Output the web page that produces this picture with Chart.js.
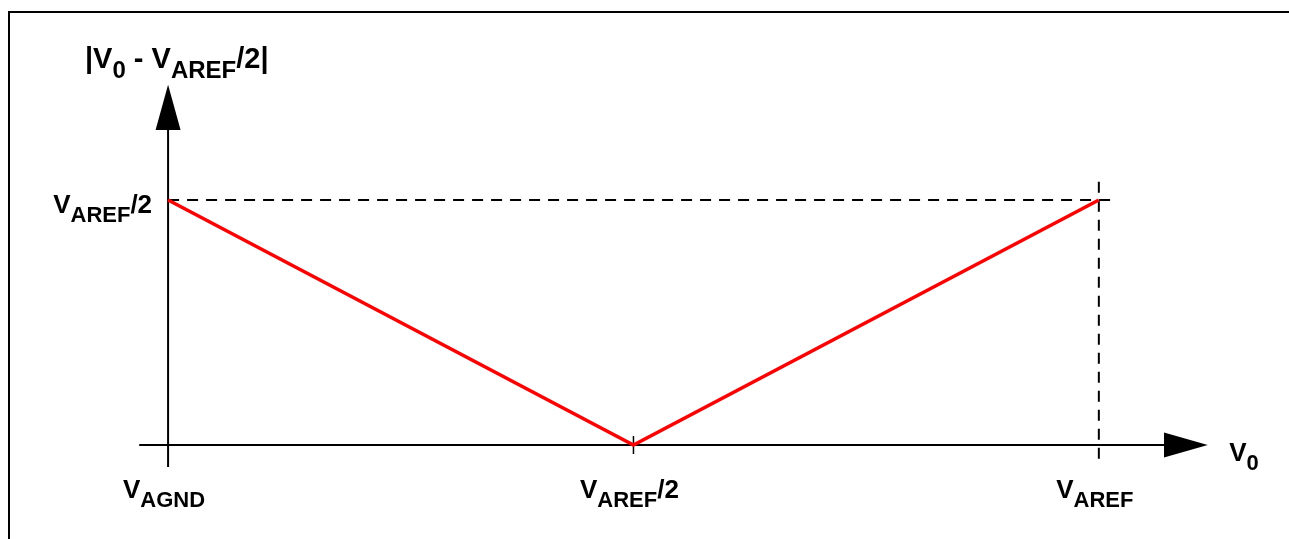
<!DOCTYPE html>
<html>
<head>
<meta charset="utf-8">
<script src="https://cdn.jsdelivr.net/npm/chart.js@4"></script>
<style>
  html,body{margin:0;padding:0;background:#fff}
  canvas{display:block}
</style>
</head>
<body>
<canvas id="c" width="1289" height="539"></canvas>
<script>
// transfer curve |V0 - VAREF/2| against V0 (VAGND = 0, VAREF = 1)
const xValues = [0, 0.5, 1]
const yValues = [0.5, 0, 0.5]

// labels: each is a list of [text, isSubscript]
const xTickValues = [0, 0.5, 1]
const xTickLabels = [
  [['V',0],['AGND',1]],
  [['V',0],['AREF',1],['/2',0]],
  [['V',0],['AREF',1]]
]
const yTickValues = [0.5]
const yTickLabels = [
  [['V',0],['AREF',1],['/2',0]]
]
const yTitle = [['|V',0],['0',1],[' - V',0],['AREF',1],['/2|',0]]
const xTitle = [['V',0],['0',1]]

const FONT = '"Liberation Sans", Arial, sans-serif'

function qs(id){return document.getElementById(id)}

function richWidth(ctx, parts, main, sub){
  let w = 0
  parts.forEach(([t,s])=>{
    ctx.font = `bold ${s?sub:main}px ${FONT}`
    w += ctx.measureText(t).width
  })
  return w
}

// draws a label with subscripts; align is 'left' | 'center' | 'right'
function drawRich(ctx, parts, x, y, align, main=26, sub=22, drop=9){
  const w = richWidth(ctx, parts, main, sub)
  let cx = align==='center' ? x - w/2 : align==='right' ? x - w : x
  ctx.textAlign = 'left'
  ctx.textBaseline = 'alphabetic'
  ctx.fillStyle = '#000'
  parts.forEach(([t,s])=>{
    ctx.font = `bold ${s?sub:main}px ${FONT}`
    ctx.fillText(t, cx, s ? y + drop : y)
    cx += ctx.measureText(t).width
  })
}

function seg(ctx, x1, y1, x2, y2){
  ctx.beginPath(); ctx.moveTo(x1,y1); ctx.lineTo(x2,y2); ctx.stroke()
}

const axesPlugin = {
  id: 'axesPlugin',
  beforeDatasetsDraw(chart){
    const ctx = chart.ctx
    const xs = chart.scales.x, ys = chart.scales.y
    const X = v => xs.getPixelForValue(v)
    const Y = v => ys.getPixelForValue(v)
    ctx.save()
    ctx.strokeStyle = '#000'
    ctx.fillStyle = '#000'
    ctx.lineWidth = 2

    // frame
    seg(ctx, 9, 12, chart.width, 12)
    seg(ctx, 9, 11, 9, chart.height)

    // axes
    seg(ctx, X(0), Y(-0.045), X(0), Y(0.643))
    seg(ctx, X(-0.031), Y(0), X(1.07), Y(0))
    ctx.beginPath()
    ctx.moveTo(X(0), Y(0.735))
    ctx.lineTo(X(0) - 12.5, Y(0.643))
    ctx.lineTo(X(0) + 12.5, Y(0.643))
    ctx.closePath(); ctx.fill()
    ctx.beginPath()
    ctx.moveTo(X(1.117), Y(0))
    ctx.lineTo(X(1.07), Y(0) - 12.5)
    ctx.lineTo(X(1.07), Y(0) + 12.5)
    ctx.closePath(); ctx.fill()

    // midpoint tick
    ctx.lineWidth = 1.5
    seg(ctx, X(0.5), Y(0) - 9, X(0.5), Y(0) + 9)

    // reference dashes
    ctx.lineWidth = 2
    ctx.setLineDash([11, 8])
    seg(ctx, X(0), Y(0.5), X(1.02), Y(0.5))
    seg(ctx, X(1), Y(0.537), X(1), Y(-0.035))
    ctx.setLineDash([])
    ctx.restore()
  },
  afterDraw(chart){
    const ctx = chart.ctx
    const xs = chart.scales.x, ys = chart.scales.y
    ctx.save()
    xTickValues.forEach((v,i)=>{
      drawRich(ctx, xTickLabels[i], xs.getPixelForValue(v) - 4, ys.getPixelForValue(0) + 53, 'center')
    })
    yTickValues.forEach((v,i)=>{
      drawRich(ctx, yTickLabels[i], xs.getPixelForValue(0) - 16, ys.getPixelForValue(v) + 13, 'right')
    })
    drawRich(ctx, yTitle, 85, 68, 'left', 29, 24, 10)
    drawRich(ctx, xTitle, xs.getPixelForValue(1.14), ys.getPixelForValue(0) + 16, 'left')
    ctx.restore()
  }
}

const chart = new Chart(qs('c').getContext('2d'), {
  type: 'line',
  data: {
    datasets: [{
      data: xValues.map((x,i)=>({x, y: yValues[i]})),
      borderColor: '#ff0000',
      borderWidth: 3.5,
      pointRadius: 0,
      fill: false,
      tension: 0
    }]
  },
  options: {
    responsive: false,
    animation: false,
    devicePixelRatio: 1,
    layout: { padding: { left: 75, right: 4, top: 53, bottom: 45 } },
    scales: {
      x: { type: 'linear', min: -0.1, max: 1.2, display: false },
      y: { type: 'linear', min: -0.1, max: 0.8, display: false }
    },
    plugins: { legend: { display: false }, tooltip: { enabled: false } }
  },
  plugins: [axesPlugin]
})
</script>
</body>
</html>
